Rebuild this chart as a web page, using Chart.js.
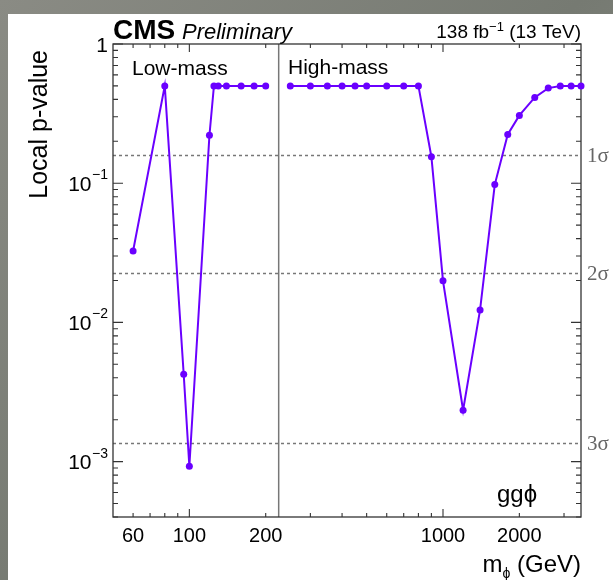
<!DOCTYPE html>
<html>
<head>
<meta charset="utf-8">
<script src="https://cdn.jsdelivr.net/npm/chart.js@4/dist/chart.umd.min.js"></script>
<style>
  html, body { margin: 0; padding: 0; background: #7d8079; }
  #wrap { position: absolute; left: 0; top: 0; width: 613px; height: 580px; }
  canvas { display: block; }
</style>
</head>
<body>
<div id="wrap"><canvas id="c" width="613" height="580"></canvas></div>
<script>
// ---- data ----
const lowMass  = [60, 80, 95, 100, 120, 125, 130, 140, 160, 180, 200];
const lowP     = [0.0326, 0.5, 0.00424, 0.000927, 0.221, 0.5, 0.5, 0.5, 0.5, 0.5, 0.5];
const highMass = [250, 300, 350, 400, 450, 500, 600, 700, 800, 900, 1000, 1200, 1400, 1600, 1800, 2000, 2300, 2600, 2900, 3200, 3500];
const highP    = [0.5, 0.5, 0.5, 0.5, 0.5, 0.5, 0.5, 0.5, 0.5, 0.155, 0.0199, 0.00234, 0.0123, 0.0977, 0.224, 0.307, 0.413, 0.482, 0.5, 0.5, 0.5];
const xLabelValues = [60, 100, 200, 1000, 2000];
const xMinorTicks  = [60, 70, 80, 90, 200, 300, 400, 500, 600, 700, 800, 900, 2000, 3000];
const xMajorTicks  = [100, 1000];
const yLabelValues = [1, 0.1, 0.01, 0.001];
const yLabelExp    = ['', '\u22121', '\u22122', '\u22123'];
const sigmaNames   = ['1\u03c3', '2\u03c3', '3\u03c3'];
const sigmaP       = [0.1587, 0.02275, 0.00135];
const regionSplit  = 225;   // boundary between low-mass and high-mass regions (GeV)
const xRange = [50, 3500];
const yRange = [4e-4, 1];

const purple = '#6a00ff';

function mk(xs, ys) { return xs.map((x, i) => ({ x: x, y: ys[i] })); }

const deco = {
  id: 'deco',
  beforeDraw(chart) {
    const ctx = chart.ctx;
    ctx.save();
    const g = ctx.createLinearGradient(0, 0, 613, 580);
    g.addColorStop(0, '#8a8b84');
    g.addColorStop(0.5, '#767a72');
    g.addColorStop(1, '#8c8e88');
    ctx.fillStyle = g;
    ctx.fillRect(0, 0, 613, 580);
    ctx.fillStyle = '#ffffff';
    ctx.fillRect(8, 14, 605, 566);
    ctx.restore();
  },
  beforeDatasetsDraw(chart) {
    const ctx = chart.ctx, a = chart.chartArea;
    const xs = chart.scales.x, ys = chart.scales.y;
    ctx.save();
    // sigma lines
    ctx.strokeStyle = '#777';
    ctx.lineWidth = 1.5;
    ctx.setLineDash([3, 3]);
    sigmaP.forEach(p => {
      const y = Math.round(ys.getPixelForValue(p)) + 0.5;
      ctx.beginPath(); ctx.moveTo(a.left, y); ctx.lineTo(a.right, y); ctx.stroke();
    });
    ctx.setLineDash([]);
    // divider
    const xd = xs.getPixelForValue(regionSplit);
    ctx.strokeStyle = '#777';
    ctx.lineWidth = 1.5;
    ctx.beginPath(); ctx.moveTo(xd, a.top); ctx.lineTo(xd, a.bottom); ctx.stroke();
    // frame
    ctx.strokeStyle = '#333';
    ctx.lineWidth = 1.3;
    ctx.strokeRect(a.left, a.top, a.right - a.left, a.bottom - a.top);
    // x ticks (inward, top and bottom)
    ctx.lineWidth = 1.1;
    const xt = (v, len) => {
      const x = xs.getPixelForValue(v);
      ctx.beginPath();
      ctx.moveTo(x, a.bottom); ctx.lineTo(x, a.bottom - len);
      ctx.moveTo(x, a.top); ctx.lineTo(x, a.top + len);
      ctx.stroke();
    };
    xMinorTicks.forEach(v => xt(v, 4));
    xMajorTicks.forEach(v => xt(v, 8));
    // y ticks
    for (let d = -4; d <= 0; d++) {
      for (let k = 1; k <= 9; k++) {
        const v = k * Math.pow(10, d);
        if (v < yRange[0] * 0.999 || v > yRange[1] * 1.001) continue;
        const y = ys.getPixelForValue(v);
        const len = k === 1 ? 10 : 5;
        ctx.beginPath();
        ctx.moveTo(a.left, y); ctx.lineTo(a.left + len, y);
        ctx.moveTo(a.right, y); ctx.lineTo(a.right - len, y);
        ctx.stroke();
      }
    }
    ctx.restore();
  },
  afterDraw(chart) {
    const ctx = chart.ctx, a = chart.chartArea;
    const xs = chart.scales.x, ys = chart.scales.y;
    ctx.save();
    ctx.fillStyle = '#000';
    ctx.textBaseline = 'alphabetic';
    // x labels
    ctx.font = '20px "Liberation Sans", Arial, sans-serif';
    ctx.textAlign = 'center';
    xLabelValues.forEach(v => {
      ctx.fillText(String(v), xs.getPixelForValue(v), 542);
    });
    // y labels
    yLabelValues.forEach((v, i) => {
      const y = ys.getPixelForValue(v);
      const right = 108;
      if (yLabelExp[i] === '') {
        ctx.font = '21px "Liberation Sans", Arial, sans-serif';
        ctx.textAlign = 'right';
        ctx.fillText('1', right, y + 7.5);
      } else {
        ctx.font = '14px "Liberation Sans", Arial, sans-serif';
        const we = ctx.measureText(yLabelExp[i]).width;
        ctx.textAlign = 'left';
        ctx.fillText(yLabelExp[i], right - we, y - 4);
        ctx.font = '21px "Liberation Sans", Arial, sans-serif';
        ctx.textAlign = 'right';
        ctx.fillText('10', right - we - 0.5, y + 7.5);
      }
    });
    // sigma labels
    ctx.fillStyle = '#666';
    ctx.font = '21px "Liberation Serif", "Times New Roman", serif';
    ctx.textAlign = 'left';
    sigmaP.forEach((p, i) => {
      ctx.fillText(sigmaNames[i], 587, ys.getPixelForValue(p) + 7);
    });
    ctx.fillStyle = '#000';
    // axis title y
    ctx.save();
    ctx.translate(47, 50);
    ctx.rotate(-Math.PI / 2);
    ctx.font = '25px "Liberation Sans", Arial, sans-serif';
    ctx.textAlign = 'right';
    ctx.fillText('Local p-value', 0, 0);
    ctx.restore();
    // axis title x: m_phi (GeV)
    {
      const base = 572, rightX = 581;
      ctx.font = '24px "Liberation Sans", Arial, sans-serif';
      const w3 = ctx.measureText(' (GeV)').width;
      const w1 = ctx.measureText('m').width;
      ctx.font = '14px "Liberation Sans", Arial, sans-serif';
      const w2 = ctx.measureText('\u03d5').width;
      let x0 = rightX - w3 - w2 - w1;
      ctx.textAlign = 'left';
      ctx.font = '24px "Liberation Sans", Arial, sans-serif';
      ctx.fillText('m', x0, base);
      ctx.font = '14px "Liberation Sans", Arial, sans-serif';
      ctx.fillText('\u03d5', x0 + w1, base + 6);
      ctx.font = '24px "Liberation Sans", Arial, sans-serif';
      ctx.fillText(' (GeV)', x0 + w1 + w2, base);
    }
    // CMS Preliminary
    ctx.textAlign = 'left';
    ctx.font = 'bold 28px "Liberation Sans", Arial, sans-serif';
    ctx.fillText('CMS', 113, 39);
    ctx.font = 'italic 22px "Liberation Sans", Arial, sans-serif';
    ctx.fillText('Preliminary', 182, 39);
    // lumi
    {
      const base = 38, rightX = 581;
      ctx.font = '19px "Liberation Sans", Arial, sans-serif';
      const wA = ctx.measureText('138 fb').width;
      const wC = ctx.measureText(' (13 TeV)').width;
      ctx.font = '13px "Liberation Sans", Arial, sans-serif';
      const wB = ctx.measureText('\u22121').width;
      const x0 = rightX - wA - wB - wC;
      ctx.font = '19px "Liberation Sans", Arial, sans-serif';
      ctx.fillText('138 fb', x0, base);
      ctx.font = '13px "Liberation Sans", Arial, sans-serif';
      ctx.fillText('\u22121', x0 + wA, base - 7);
      ctx.font = '19px "Liberation Sans", Arial, sans-serif';
      ctx.fillText(' (13 TeV)', x0 + wA + wB, base);
    }
    // region labels
    ctx.font = '21px "Liberation Sans", Arial, sans-serif';
    ctx.fillText('Low-mass', 132, 75);
    ctx.fillText('High-mass', 288, 74);
    ctx.font = '24px "Liberation Sans", Arial, sans-serif';
    ctx.fillText('gg\u03d5', 497, 502);
    ctx.restore();
  }
};

const dsStyle = {
  showLine: true,
  borderColor: purple,
  backgroundColor: purple,
  pointBackgroundColor: purple,
  pointBorderColor: purple,
  borderWidth: 2,
  pointRadius: 3.5,
  pointBorderWidth: 0,
  tension: 0,
  clip: false
};

new Chart(document.getElementById('c'), {
  type: 'scatter',
  data: {
    datasets: [
      Object.assign({ label: 'Low-mass', data: mk(lowMass, lowP) }, dsStyle),
      Object.assign({ label: 'High-mass', data: mk(highMass, highP) }, dsStyle)
    ]
  },
  options: {
    responsive: false,
    animation: false,
    devicePixelRatio: 1,
    layout: { padding: { left: 113, right: 32, top: 44, bottom: 63 } },
    plugins: { legend: { display: false }, tooltip: { enabled: false } },
    scales: {
      x: { type: 'logarithmic', min: xRange[0], max: xRange[1], display: false },
      y: { type: 'logarithmic', min: yRange[0], max: yRange[1], display: false }
    }
  },
  plugins: [deco]
});
</script>
</body>
</html>
